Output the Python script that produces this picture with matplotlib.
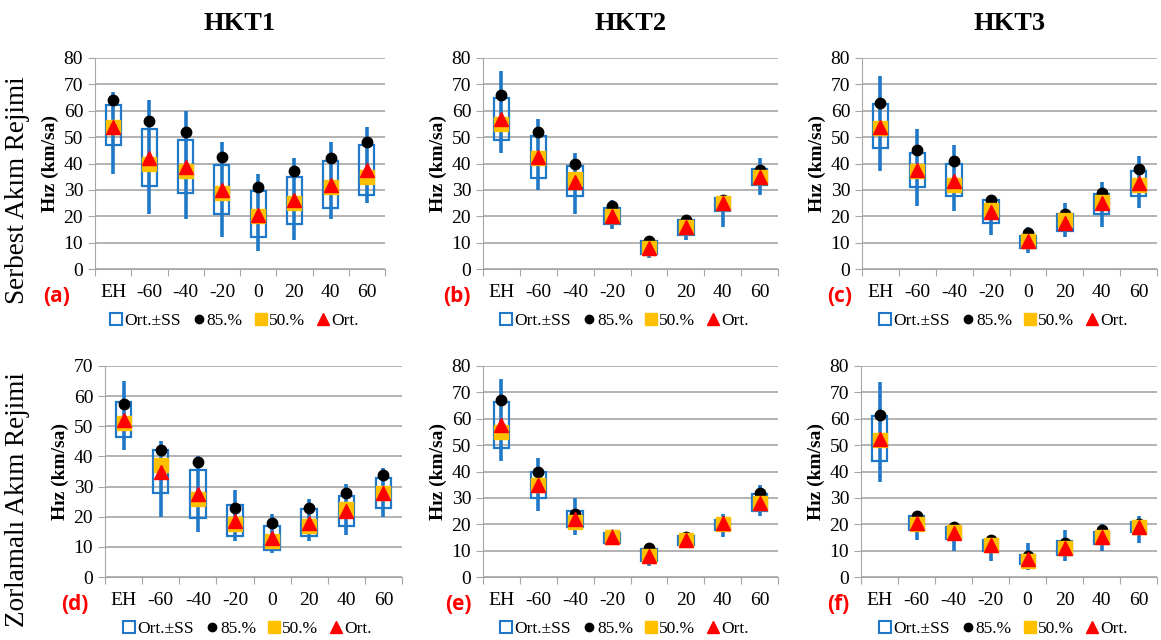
import numpy as np
import matplotlib.pyplot as plt
from matplotlib.lines import Line2D

# kategoriler
categories = ["EH", "-60", "-40", "-20", "0", "20", "40", "60"]
col_titles = ["HKT1", "HKT2", "HKT3"]
row_titles = ["Serbest Akım Rejimi", "Zorlamalı Akım Rejimi"]
panel_letters = ["(a)", "(b)", "(c)", "(d)", "(e)", "(f)"]

# (a) HKT1 serbest
a_min = [36, 21, 19, 12, 7, 11, 19, 25]
a_max = [67, 64, 60, 48, 36, 42, 48, 54]
a_lo = [47, 31.5, 29, 21, 12, 17, 23, 28]
a_hi = [62, 53, 49, 39.5, 29.5, 35, 41, 47]
a_p85 = [64, 56, 52, 42.5, 31, 37, 42, 48]
a_p50 = [54, 40, 37, 29, 20, 25, 31, 35]
a_ort = [54, 42, 38.5, 30, 20.5, 26, 32, 37.5]

# (b) HKT2 serbest
b_min = [44, 30, 21, 15, 4, 11, 16, 28]
b_max = [75, 57, 44, 26, 12, 19, 27, 42]
b_lo = [49, 34.5, 27.5, 17, 5.5, 13, 22, 32]
b_hi = [65, 50.5, 39, 23, 10.5, 18.5, 27, 38]
b_p85 = [66, 52, 40, 24, 10.5, 18.5, 26, 37.5]
b_p50 = [55, 42, 34, 20, 8, 16, 25, 35]
b_ort = [57, 42.5, 33, 20, 8, 16, 25, 35]

# (c) HKT3 serbest
c_min = [37, 24, 22, 13, 6, 12, 16, 23]
c_max = [73, 53, 47, 27, 16, 25, 33, 43]
c_lo = [46, 31, 27.5, 17.5, 8, 14.5, 21, 27.5]
c_hi = [62.5, 44, 40, 26, 12.5, 21, 28.5, 37]
c_p85 = [63, 45, 41, 26, 13.5, 21, 29, 38]
c_p50 = [53.5, 37, 32, 22.5, 10.5, 18.5, 25.5, 32]
c_ort = [54, 37.5, 33.5, 21.5, 10.5, 17.5, 25, 32.5]

# (d) HKT1 zorlamali
d_min = [42, 20, 15, 12, 8, 12, 14, 20]
d_max = [65, 45, 40, 29, 21, 26, 31, 36]
d_lo = [46.5, 28, 19.5, 13.5, 9, 13.5, 17, 23]
d_hi = [58, 42, 35.5, 24, 17, 22.5, 27, 33]
d_p85 = [57.5, 42, 38, 23, 18, 23, 28, 34]
d_p50 = [51, 37, 26, 17.5, 12, 17, 22.5, 28]
d_ort = [52, 35, 27.5, 18.5, 13, 18, 22, 28]

# (e) HKT2 zorlamali
e_min = [44, 25, 16, 12, 4, 11, 15, 23]
e_max = [75, 45, 30, 18, 11, 16, 24, 35]
e_lo = [49, 30, 19, 13, 6, 12, 18, 25]
e_hi = [66.5, 40, 25, 16.5, 10.5, 15.5, 21.5, 31.5]
e_p85 = [67, 40, 24, 16, 11, 15, 21, 32]
e_p50 = [55, 35, 21, 15, 8, 14, 20, 28]
e_ort = [57.5, 35, 22, 15, 8, 14, 20.5, 28]

# (f) HKT3 zorlamali
f_min = [36, 14, 10, 6, 2.5, 6, 10, 13]
f_max = [74, 25, 21, 16, 13, 18, 20, 23]
f_lo = [44, 18, 14.5, 10, 5, 8.5, 12.5, 17]
f_hi = [61, 23, 19, 14, 8.5, 13.5, 17, 21]
f_p85 = [61.5, 23, 19, 14, 8, 13, 18, 20]
f_p50 = [52, 20, 17, 12, 6, 11, 15, 19]
f_ort = [52.5, 20.5, 16.5, 12, 7, 11, 15, 19]

panels = [
    (a_min, a_max, a_lo, a_hi, a_p85, a_p50, a_ort, 80),
    (b_min, b_max, b_lo, b_hi, b_p85, b_p50, b_ort, 80),
    (c_min, c_max, c_lo, c_hi, c_p85, c_p50, c_ort, 80),
    (d_min, d_max, d_lo, d_hi, d_p85, d_p50, d_ort, 70),
    (e_min, e_max, e_lo, e_hi, e_p85, e_p50, e_ort, 80),
    (f_min, f_max, f_lo, f_hi, f_p85, f_p50, f_ort, 80),
]

plt.rcParams["font.family"] = ["Liberation Serif", "DejaVu Serif"]
blue = "#1F78C8"
orange = "#FFC000"
red = "#FF0000"
grid_c = "#A6A6A6"

W, H = 1161, 640
fig = plt.figure(figsize=(W / 100, H / 100), dpi=100)

# piksel -> figure koordinat
lefts = [[95, 483, 862], [105, 483, 861]]
rights = [[385, 778, 1157], [402, 778, 1157]]
tops = [58, 366]
bottoms = [269, 577]
letter_dx = [-38, -26, -22, -30, -25, -23]   # harf etiketi, eksenin solundan piksel

x = np.arange(len(categories))
for i, p in enumerate(panels):
    r, c = divmod(i, 3)
    vmin, vmax, lo, hi, p85, p50, ort, ymax = p
    l, rr = lefts[r][c], rights[r][c]
    ax = fig.add_axes([l / W, 1 - bottoms[r] / H, (rr - l) / W, (bottoms[r] - tops[r]) / H])

    ax.vlines(x, vmin, vmax, color=blue, lw=2.6, zorder=2)
    ax.bar(x, np.array(hi) - np.array(lo), bottom=lo, width=0.42, fill=False,
           edgecolor=blue, lw=1.6, zorder=3)
    ax.plot(x, p85, "o", color="black", ms=7.5, zorder=4)
    ax.plot(x, p50, "s", color=orange, ms=10, zorder=5)
    ax.plot(x, ort, "^", color=red, ms=10, zorder=6)

    ax.set_xlim(-0.5, len(categories) - 0.5)
    ax.set_ylim(0, ymax)
    ax.set_yticks(np.arange(0, ymax + 1, 10))
    ax.yaxis.grid(True, color=grid_c, lw=1.2)
    ax.set_axisbelow(True)
    ax.set_xticks(np.arange(-0.5, len(categories), 1))
    ax.set_xticklabels([])
    ax.set_xticks(x, minor=True)
    ax.set_xticklabels(categories, minor=True, fontsize=14)
    ax.tick_params(axis="x", which="major", length=5, color=grid_c)
    ax.tick_params(axis="x", which="minor", length=0, pad=11)
    ax.tick_params(axis="y", length=5, color=grid_c, labelsize=14)
    for s in ["top", "right"]:
        ax.spines[s].set_visible(False)
    for s in ["left", "bottom"]:
        ax.spines[s].set_color(grid_c)
    ax.set_ylabel("Hız (km/sa)", fontweight="bold", fontsize=14, labelpad=3)

    ax.text(letter_dx[i] / (rr - l), -0.13, panel_letters[i], transform=ax.transAxes,
            color=red, fontfamily="Open Sans", fontweight="bold", fontsize=15,
            va="center", ha="center")

    handles = [
        Line2D([], [], marker="s", ls="none", mfc="white", mec=blue, mew=1.5, ms=9),
        Line2D([], [], marker="o", ls="none", color="black", ms=6),
        Line2D([], [], marker="s", ls="none", color=orange, ms=9),
        Line2D([], [], marker="^", ls="none", color=red, ms=9),
    ]
    ax.legend(handles, ["Ort.±SS", "85.%", "50.%", "Ort."], loc="upper center",
              bbox_to_anchor=(0.48, -0.15), ncol=4, frameon=False, handletextpad=0.1,
              columnspacing=0.7, handlelength=0.7, borderpad=0.2, prop={"size": 12.5})

    if r == 0:
        ax.set_title(col_titles[c], fontweight="bold", fontsize=19, pad=20)

fig.text(18 / W, 1 - 190 / H, row_titles[0], rotation=90, fontsize=19.5,
         ha="center", va="center")
fig.text(18 / W, 1 - 500 / H, row_titles[1], rotation=90, fontsize=19.5,
         ha="center", va="center")

fig.savefig("out.png", dpi=100)
